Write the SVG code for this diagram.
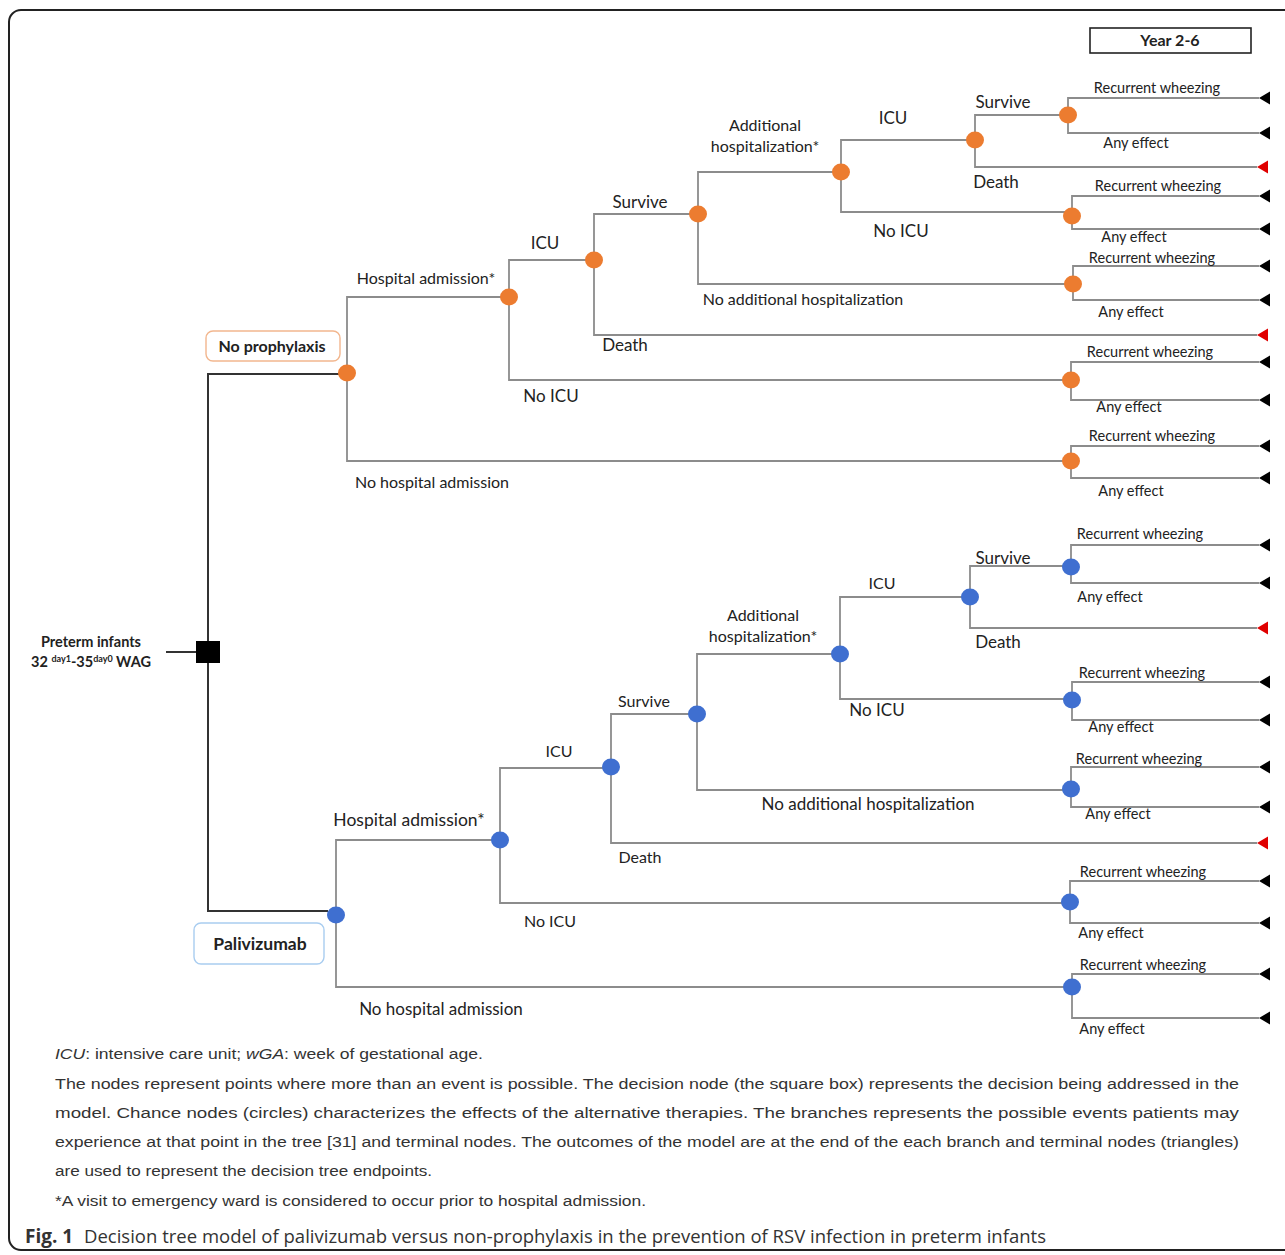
<svg xmlns="http://www.w3.org/2000/svg" width="1285" height="1255" viewBox="0 0 1285 1255">
<defs>
<marker id="tb" markerUnits="userSpaceOnUse" markerWidth="14" markerHeight="14" refX="0" refY="0" viewBox="-1 -7 14 14" orient="auto"><path d="M0,0 L11,-6.5 L11,6.5 z" fill="#000"/></marker>
<marker id="tr" markerUnits="userSpaceOnUse" markerWidth="14" markerHeight="14" refX="0" refY="0" viewBox="-1 -7 14 14" orient="auto"><path d="M0,0 L11,-6.5 L11,6.5 z" fill="#e00000"/></marker>
</defs>
<style>
.frame{fill:none;stroke:#222;stroke-width:2}
.e{fill:none;stroke:#8c8c8c;stroke-width:1.8}
.d{fill:none;stroke:#333;stroke-width:2}
.t{marker-end:url(#tb)}
.r{marker-end:url(#tr)}
.o{fill:#ec7c30}
.b{fill:#3f6fd0}
text{font-family:Lato,"Liberation Sans",sans-serif;fill:#222}
.l{font-size:16px;text-anchor:middle}
.m{font-size:17px;text-anchor:middle}
.s{font-size:14.5px;text-anchor:middle}
.bold{font-weight:bold}
.cap{font-family:"Liberation Sans",Arial,sans-serif;font-size:15.5px;fill:#333}
.fig{font-family:"Open Sans","Liberation Sans",sans-serif;font-size:19px;fill:#333}
</style>
<rect width="1285" height="1255" fill="#fff"/>
<rect class="frame" x="9" y="10" width="1300" height="1240" rx="12"/>

<g id="connectors">
<path class="d" d="M166,652 H196"/>
<path class="d" d="M208,641 V374 H339"/>
<path class="d" d="M208,663 V911 H328"/>
<path class="e" d="M347,373 V297 H509"/>
<path class="e" d="M347,373 V461 H1071"/>
<path class="e" d="M509,297 V260 H594"/>
<path class="e" d="M509,297 V380 H1071"/>
<path class="e" d="M594,260 V214 H698"/>
<path class="e r" d="M594,260 V335 H1257"/>
<path class="e" d="M698,214 V172 H841"/>
<path class="e" d="M698,214 V284 H1074"/>
<path class="e" d="M841,172 V140 H975"/>
<path class="e" d="M841,172 V212 H1072"/>
<path class="e" d="M975,140 V115 H1068"/>
<path class="e r" d="M975,140 V167 H1257"/>
<path class="e t" d="M1068,115 V98 H1259"/>
<path class="e t" d="M1068,115 V133 H1259"/>
<path class="e t" d="M1072,216 V196 H1259"/>
<path class="e t" d="M1072,216 V229 H1259"/>
<path class="e t" d="M1073,284 V266 H1259"/>
<path class="e t" d="M1073,284 V300 H1259"/>
<path class="e t" d="M1071,380 V362 H1259"/>
<path class="e t" d="M1071,380 V400 H1259"/>
<path class="e t" d="M1071,461 V446 H1259"/>
<path class="e t" d="M1071,461 V478 H1259"/>
<path class="e" d="M336,915 V840 H500"/>
<path class="e" d="M336,915 V987 H1071"/>
<path class="e" d="M500,840 V768 H611"/>
<path class="e" d="M500,840 V903 H1070"/>
<path class="e" d="M611,767 V714 H697"/>
<path class="e r" d="M611,767 V843 H1257"/>
<path class="e" d="M697,714 V654 H840"/>
<path class="e" d="M697,714 V790 H1071"/>
<path class="e" d="M840,654 V597 H970"/>
<path class="e" d="M840,654 V699 H1072"/>
<path class="e" d="M970,597 V566 H1071"/>
<path class="e r" d="M970,597 V628 H1257"/>
<path class="e t" d="M1071,567 V545 H1259"/>
<path class="e t" d="M1071,567 V583 H1259"/>
<path class="e t" d="M1072,700 V682 H1259"/>
<path class="e t" d="M1072,700 V720 H1259"/>
<path class="e t" d="M1071,789 V767 H1259"/>
<path class="e t" d="M1071,789 V807 H1259"/>
<path class="e t" d="M1070,902 V881 H1259"/>
<path class="e t" d="M1070,902 V923 H1259"/>
<path class="e t" d="M1072,987 V974 H1259"/>
<path class="e t" d="M1072,987 V1018 H1259"/>
</g>

<g id="year-box">
<rect x="1090" y="28" width="161" height="25" fill="#fff" stroke="#222" stroke-width="1.6"/>
<text class="l bold" x="1170" y="46">Year 2-6</text>
</g>

<g id="decision">
<rect x="196" y="641" width="24" height="22" fill="#000"/>
<text class="bold" x="91" y="647" style="font-size:14.5px;text-anchor:middle">Preterm infants</text>
<text class="bold" x="91" y="667" style="font-size:14.5px;text-anchor:middle">32 <tspan style="font-size:9px" dy="-5">day1</tspan><tspan dy="5">-35</tspan><tspan style="font-size:9px" dy="-5">day0</tspan><tspan dy="5"> WAG</tspan></text>
</g>

<g id="no-prophylaxis">
<rect x="206" y="331" width="134" height="30" rx="7" fill="#fff" stroke="#f2b68e" stroke-width="1.4"/>
<text class="l bold" x="272" y="352">No prophylaxis</text>
</g>
<g id="palivizumab">
<rect x="194" y="923" width="130" height="41" rx="7" fill="#fff" stroke="#a9cdf0" stroke-width="1.4"/>
<text class="bold" x="260" y="950" style="font-size:17.5px;text-anchor:middle">Palivizumab</text>
</g>

<g id="nodes-top">
<g id="a0"><ellipse class="o" cx="347" cy="373" rx="9" ry="8.5"/><text class="l" x="426" y="284">Hospital admission*</text><text class="l" x="432" y="488">No hospital admission</text></g>
<g id="a1"><ellipse class="o" cx="509" cy="297" rx="9" ry="8.5"/><text class="m" x="545" y="249">ICU</text><text class="m" x="551" y="402">No ICU</text></g>
<g id="a2"><ellipse class="o" cx="594" cy="260" rx="9" ry="8.5"/><text class="m" x="640" y="208">Survive</text><text class="m" x="625" y="351">Death</text></g>
<g id="a3"><ellipse class="o" cx="698" cy="214" rx="9" ry="8.5"/><text class="l" x="765" y="131">Additional</text><text class="l" x="765" y="152">hospitalization*</text><text class="l" x="803" y="305">No additional hospitalization</text></g>
<g id="a4"><ellipse class="o" cx="841" cy="172" rx="9" ry="8.5"/><text class="m" x="893" y="124">ICU</text><text class="m" x="901" y="237">No ICU</text></g>
<g id="a5"><ellipse class="o" cx="975" cy="140" rx="9" ry="8.5"/><text class="m" x="1003" y="108">Survive</text><text class="m" x="996" y="188">Death</text></g>
<g id="a6"><ellipse class="o" cx="1068" cy="115" rx="9" ry="8.5"/><text class="s" x="1157" y="93">Recurrent wheezing</text><text class="s" x="1136" y="148">Any effect</text></g>
<g id="a7"><ellipse class="o" cx="1072" cy="216" rx="9" ry="8.5"/><text class="s" x="1158" y="191">Recurrent wheezing</text><text class="s" x="1134" y="242">Any effect</text></g>
<g id="a8"><ellipse class="o" cx="1073" cy="284" rx="9" ry="8.5"/><text class="s" x="1152" y="263">Recurrent wheezing</text><text class="s" x="1131" y="317">Any effect</text></g>
<g id="a9"><ellipse class="o" cx="1071" cy="380" rx="9" ry="8.5"/><text class="s" x="1150" y="357">Recurrent wheezing</text><text class="s" x="1129" y="412">Any effect</text></g>
<g id="a10"><ellipse class="o" cx="1071" cy="461" rx="9" ry="8.5"/><text class="s" x="1152" y="441">Recurrent wheezing</text><text class="s" x="1131" y="496">Any effect</text></g>
</g>

<g id="nodes-bottom">
<g id="b0"><ellipse class="b" cx="336" cy="915" rx="9" ry="8.5"/><text x="409" y="826" style="font-size:17.5px;text-anchor:middle">Hospital admission*</text><text class="m" x="441" y="1015">No hospital admission</text></g>
<g id="b1"><ellipse class="b" cx="500" cy="840" rx="9" ry="8.5"/><text class="l" x="559" y="757">ICU</text><text class="l" x="550" y="927">No ICU</text></g>
<g id="b2"><ellipse class="b" cx="611" cy="767" rx="9" ry="8.5"/><text class="l" x="644" y="707">Survive</text><text class="l" x="640" y="863">Death</text></g>
<g id="b3"><ellipse class="b" cx="697" cy="714" rx="9" ry="8.5"/><text class="l" x="763" y="621">Additional</text><text class="l" x="763" y="642">hospitalization*</text><text class="m" x="868" y="810">No additional hospitalization</text></g>
<g id="b4"><ellipse class="b" cx="840" cy="654" rx="9" ry="8.5"/><text class="l" x="882" y="589">ICU</text><text class="m" x="877" y="716">No ICU</text></g>
<g id="b5"><ellipse class="b" cx="970" cy="597" rx="9" ry="8.5"/><text class="m" x="1003" y="564">Survive</text><text class="m" x="998" y="648">Death</text></g>
<g id="b6"><ellipse class="b" cx="1071" cy="567" rx="9" ry="8.5"/><text class="s" x="1140" y="539">Recurrent wheezing</text><text class="s" x="1110" y="602">Any effect</text></g>
<g id="b7"><ellipse class="b" cx="1072" cy="700" rx="9" ry="8.5"/><text class="s" x="1142" y="678">Recurrent wheezing</text><text class="s" x="1121" y="732">Any effect</text></g>
<g id="b8"><ellipse class="b" cx="1071" cy="789" rx="9" ry="8.5"/><text class="s" x="1139" y="764">Recurrent wheezing</text><text class="s" x="1118" y="819">Any effect</text></g>
<g id="b9"><ellipse class="b" cx="1070" cy="902" rx="9" ry="8.5"/><text class="s" x="1143" y="877">Recurrent wheezing</text><text class="s" x="1111" y="938">Any effect</text></g>
<g id="b10"><ellipse class="b" cx="1072" cy="987" rx="9" ry="8.5"/><text class="s" x="1143" y="970">Recurrent wheezing</text><text class="s" x="1112" y="1034">Any effect</text></g>
</g>

<g id="caption">
<text class="cap" x="55" y="1059" textLength="428" lengthAdjust="spacingAndGlyphs"><tspan font-style="italic">ICU</tspan>: intensive care unit; <tspan font-style="italic">wGA</tspan>: week of gestational age.</text>
<text class="cap" x="55" y="1089" textLength="1184" lengthAdjust="spacingAndGlyphs">The nodes represent points where more than an event is possible. The decision node (the square box) represents the decision being addressed in the</text>
<text class="cap" x="55" y="1118" textLength="1184" lengthAdjust="spacingAndGlyphs">model. Chance nodes (circles) characterizes the effects of the alternative therapies. The branches represents the possible events patients may</text>
<text class="cap" x="55" y="1147" textLength="1184" lengthAdjust="spacingAndGlyphs">experience at that point in the tree [31] and terminal nodes. The outcomes of the model are at the end of the each branch and terminal nodes (triangles)</text>
<text class="cap" x="55" y="1176" textLength="377" lengthAdjust="spacingAndGlyphs">are used to represent the decision tree endpoints.</text>
<text class="cap" x="55" y="1206" textLength="591" lengthAdjust="spacingAndGlyphs">*A visit to emergency ward is considered to occur prior to hospital admission.</text>
<text class="fig" x="25" y="1243" font-weight="bold">Fig. 1</text>
<text class="fig" x="84" y="1243" textLength="962" lengthAdjust="spacingAndGlyphs">Decision tree model of palivizumab versus non-prophylaxis in the prevention of RSV infection in preterm infants</text>
</g>
</svg>
